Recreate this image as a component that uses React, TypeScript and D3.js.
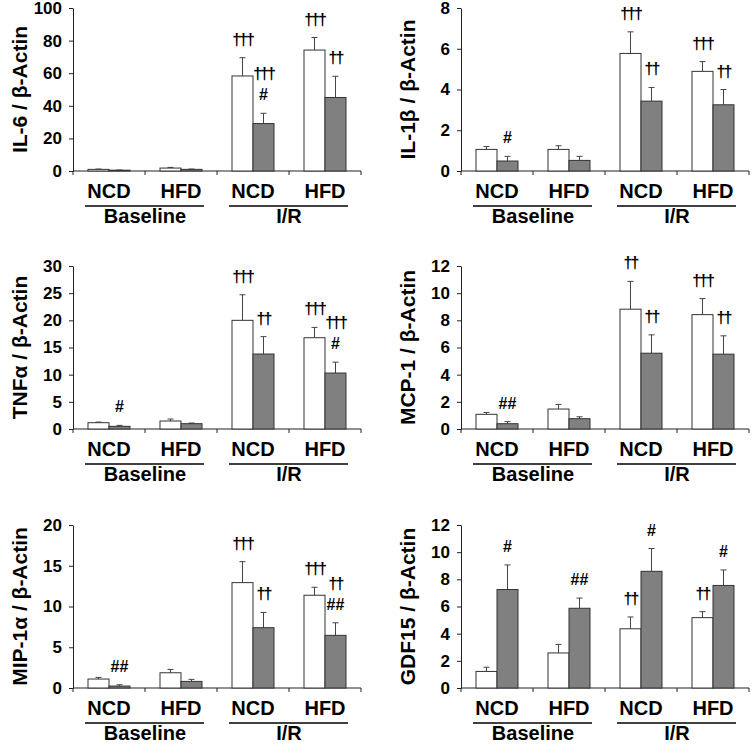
import React, { useRef, useEffect } from "react";
import * as d3 from "d3";

// x categories (diet) and the two condition groups under them
const categories = ["NCD", "HFD", "NCD", "HFD"];
const groups = ["Baseline", "I/R"];

// IL-6
const il6White = [1.0, 1.8, 58.3, 74.2];
const il6WhiteSe = [0.2, 0.4, 11.2, 7.7];
const il6Grey = [0.5, 1.0, 29.1, 45.1];
const il6GreySe = [0.1, 0.2, 6.3, 13.0];
const il6WhiteMarks = ["", "", "†††", "†††"];
const il6GreyMarks = ["", "", "†††\n#", "††"];

// IL-1β
const il1bWhite = [1.06, 1.06, 5.77, 4.89];
const il1bWhiteSe = [0.14, 0.18, 1.06, 0.48];
const il1bGrey = [0.49, 0.52, 3.43, 3.25];
const il1bGreySe = [0.23, 0.2, 0.67, 0.75];
const il1bWhiteMarks = ["", "", "†††", "†††"];
const il1bGreyMarks = ["#", "", "††", "††"];

// TNFα
const tnfWhite = [1.16, 1.47, 20.0, 16.8];
const tnfWhiteSe = [0.12, 0.36, 4.7, 1.9];
const tnfGrey = [0.49, 0.98, 13.8, 10.3];
const tnfGreySe = [0.18, 0.12, 3.2, 2.0];
const tnfWhiteMarks = ["", "", "†††", "†††"];
const tnfGreyMarks = ["#", "", "††", "†††\n#"];

// MCP-1
const mcpWhite = [1.08, 1.47, 8.82, 8.42];
const mcpWhiteSe = [0.14, 0.34, 2.05, 1.18];
const mcpGrey = [0.39, 0.76, 5.58, 5.51];
const mcpGreySe = [0.15, 0.14, 1.35, 1.35];
const mcpWhiteMarks = ["", "", "††", "†††"];
const mcpGreyMarks = ["##", "", "††", "††"];

// MIP-1α
const mipWhite = [1.1, 1.87, 12.93, 11.38];
const mipWhiteSe = [0.2, 0.41, 2.57, 0.98];
const mipGrey = [0.24, 0.81, 7.4, 6.46];
const mipGreySe = [0.16, 0.25, 1.87, 1.54];
const mipWhiteMarks = ["", "", "†††", "†††"];
const mipGreyMarks = ["##", "", "††", "††\n##"];

// GDF15
const gdfWhite = [1.22, 2.58, 4.36, 5.18];
const gdfWhiteSe = [0.31, 0.63, 0.87, 0.44];
const gdfGrey = [7.25, 5.87, 8.59, 7.55];
const gdfGreySe = [1.81, 0.75, 1.68, 1.14];
const gdfWhiteMarks = ["", "", "††", "††"];
const gdfGreyMarks = ["#", "##", "#", "#"];

const panels = [
  { label: "IL-6 / β-Actin", max: 100, step: 20, white: il6White, whiteSe: il6WhiteSe, grey: il6Grey, greySe: il6GreySe, whiteMarks: il6WhiteMarks, greyMarks: il6GreyMarks },
  { label: "IL-1β / β-Actin", max: 8, step: 2, white: il1bWhite, whiteSe: il1bWhiteSe, grey: il1bGrey, greySe: il1bGreySe, whiteMarks: il1bWhiteMarks, greyMarks: il1bGreyMarks },
  { label: "TNFα / β-Actin", max: 30, step: 5, white: tnfWhite, whiteSe: tnfWhiteSe, grey: tnfGrey, greySe: tnfGreySe, whiteMarks: tnfWhiteMarks, greyMarks: tnfGreyMarks },
  { label: "MCP-1 / β-Actin", max: 12, step: 2, white: mcpWhite, whiteSe: mcpWhiteSe, grey: mcpGrey, greySe: mcpGreySe, whiteMarks: mcpWhiteMarks, greyMarks: mcpGreyMarks },
  { label: "MIP-1α / β-Actin", max: 20, step: 5, white: mipWhite, whiteSe: mipWhiteSe, grey: mipGrey, greySe: mipGreySe, whiteMarks: mipWhiteMarks, greyMarks: mipGreyMarks },
  { label: "GDF15 / β-Actin", max: 12, step: 2, white: gdfWhite, whiteSe: gdfWhiteSe, grey: gdfGrey, greySe: gdfGreySe, whiteMarks: gdfWhiteMarks, greyMarks: gdfGreyMarks },
];

const W = 753;
const H = 744;
const font = "'Liberation Sans', Arial, Helvetica, sans-serif";
const colX = [73, 461];
const rowY = [8, 266, 525];
const plotW = 288;
const plotH = 163;

const App = () => {
  const ref = useRef<SVGSVGElement>(null);

  useEffect(() => {
    const svg = d3.select(ref.current);
    svg.selectAll("*").remove();

    panels.forEach((p, i) => {
      const g = svg
        .append("g")
        .attr("transform", `translate(${colX[i % 2]},${rowY[Math.floor(i / 2)]})`)
        .style("font-family", font)
        .style("font-weight", "bold");

      const y = d3.scaleLinear().domain([0, p.max]).range([plotH, 0]);
      const x = d3.scaleBand<number>().domain(d3.range(categories.length)).range([0, plotW]);
      const xs = d3
        .scaleBand<string>()
        .domain(["white", "grey"])
        .range([0, x.bandwidth()])
        .paddingInner(0)
        .paddingOuter(0.714);
      const bw = xs.bandwidth();

      // y axis
      const yAxis = g
        .append("g")
        .call(
          d3
            .axisLeft(y)
            .tickValues(d3.range(0, p.max + p.step / 2, p.step))
            .tickSize(4)
            .tickSizeOuter(0)
            .tickPadding(7)
        );
      yAxis.selectAll("path, line").attr("stroke", "#222").attr("stroke-width", 1);
      yAxis
        .selectAll("text")
        .attr("fill", "#000")
        .style("font-family", font)
        .style("font-weight", "bold")
        .style("font-size", "17px");

      // x axis with ticks at group boundaries
      g.append("line")
        .attr("x1", 0)
        .attr("x2", plotW)
        .attr("y1", y(0))
        .attr("y2", y(0))
        .attr("stroke", "#222");
      g.selectAll(".xtick")
        .data(d3.range(categories.length + 1))
        .join("line")
        .attr("x1", (d) => d * x.step())
        .attr("x2", (d) => d * x.step())
        .attr("y1", y(0))
        .attr("y2", y(0) + 4)
        .attr("stroke", "#222");

      // y label
      g.append("text")
        .attr("transform", `translate(-46,${plotH / 2}) rotate(-90)`)
        .attr("text-anchor", "middle")
        .style("font-size", "21px")
        .text(p.label);

      const series = [
        { key: "white", vals: p.white, se: p.whiteSe, marks: p.whiteMarks, fill: "#ffffff" },
        { key: "grey", vals: p.grey, se: p.greySe, marks: p.greyMarks, fill: "#808080" },
      ];

      series.forEach((s) => {
        const bx = (j: number) => (x(j) as number) + (xs(s.key) as number);
        // error bars (upper only)
        g.selectAll(`.err-${s.key}`)
          .data(s.vals)
          .join("path")
          .attr("d", (d, j) => {
            const cx = bx(j) + bw / 2;
            const top = y(d + s.se[j]);
            return `M${cx},${y(d)}V${top}M${cx - 3},${top}H${cx + 3}`;
          })
          .attr("stroke", "#444")
          .attr("fill", "none");
        // bars
        g.selectAll(`.bar-${s.key}`)
          .data(s.vals)
          .join("rect")
          .attr("x", (d, j) => bx(j))
          .attr("y", (d) => y(d))
          .attr("width", bw)
          .attr("height", (d) => y(0) - y(d))
          .attr("fill", s.fill)
          .attr("stroke", "#333")
          .attr("stroke-width", 1);
        // significance marks
        s.marks.forEach((m, j) => {
          if (!m) return;
          const lines = m.split("\n");
          const top = y(s.vals[j] + s.se[j]);
          lines.forEach((ln, k) => {
            g.append("text")
              .attr("x", bx(j) + bw / 2)
              .attr("y", top - 13 - (lines.length - 1 - k) * 21)
              .attr("text-anchor", "middle")
              .style("font-size", "16px")
              .style("letter-spacing", ln.includes("†") ? "-2px" : "0px")
              .text(ln);
          });
        });
      });

      // category labels
      g.selectAll(".cat")
        .data(categories)
        .join("text")
        .attr("x", (d, j) => (x(j) as number) + x.bandwidth() / 2)
        .attr("y", y(0) + 27)
        .attr("text-anchor", "middle")
        .style("font-size", "20px")
        .text((d) => d);

      // group underline + labels
      groups.forEach((gr, k) => {
        const x1 = (x(k * 2) as number) + (xs("white") as number) - 3;
        const x2 = (x(k * 2 + 1) as number) + (xs("grey") as number) + bw + 2;
        g.append("line")
          .attr("x1", x1)
          .attr("x2", x2)
          .attr("y1", y(0) + 35)
          .attr("y2", y(0) + 35)
          .attr("stroke", "#000")
          .attr("stroke-width", 1.5);
        g.append("text")
          .attr("x", x.step() * (k * 2 + 1))
          .attr("y", y(0) + 52)
          .attr("text-anchor", "middle")
          .style("font-size", "20px")
          .text(gr);
      });
    });
  }, []);

  return (
    <svg
      ref={ref}
      width={W}
      height={H}
      style={{ position: "absolute", left: 0, top: 0, background: "#fff" }}
    ></svg>
  );
};

export default App;
